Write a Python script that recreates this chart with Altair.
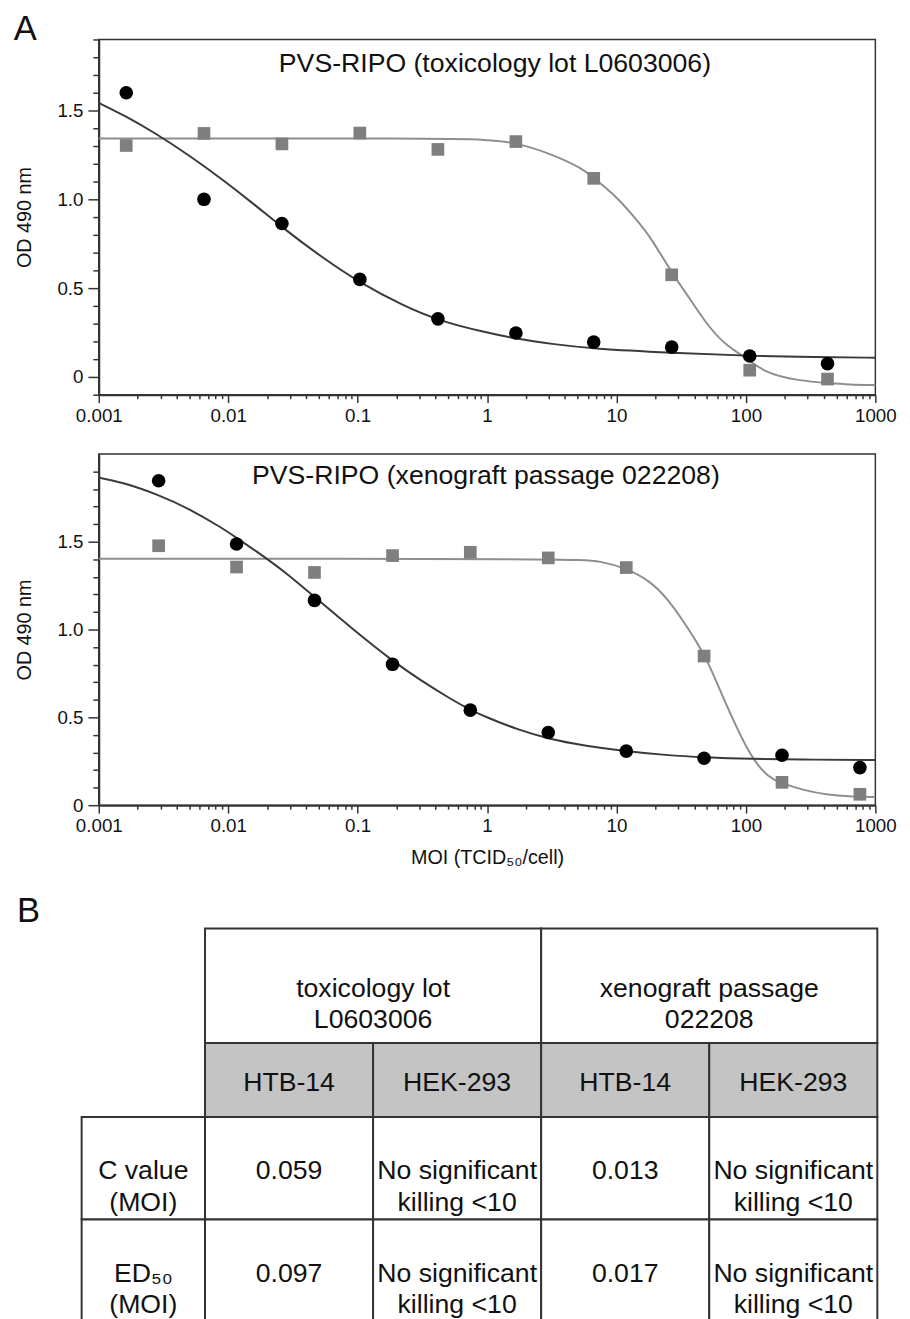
import altair as alt
import pandas as pd

FONT = "Liberation Sans"

# ---------------- data ----------------
# Panel A, top: PVS-RIPO toxicology lot L0603006
tox_moi = [0.00163, 0.0065, 0.026, 0.104, 0.417, 1.67, 6.67, 26.7, 107, 427]
tox_htb14 = [1.60, 1.00, 0.864, 0.549, 0.327, 0.247, 0.196, 0.168, 0.118, 0.075]
tox_hek293 = [1.303, 1.371, 1.312, 1.373, 1.281, 1.325, 1.118, 0.575, 0.038, -0.012]
tox_fit_htb14_moi = [0.001, 0.0016, 0.0028, 0.005, 0.0089, 0.016, 0.026, 0.052, 0.107,
                     0.224, 0.42, 0.98, 1.67, 3.1, 6.7, 27, 105, 340, 1000]
tox_fit_htb14_od = [1.543, 1.470, 1.368, 1.247, 1.115, 0.970, 0.843, 0.677, 0.524,
                    0.402, 0.317, 0.250, 0.215, 0.186, 0.158, 0.136, 0.118, 0.112, 0.108]
tox_fit_hek293_moi = [0.001, 0.42, 1.0, 1.67, 3.1, 5.6, 6.7, 10, 13.5, 18.2, 27, 37, 52,
                      74, 96, 141, 252, 455, 617, 1000]
tox_fit_hek293_od = [1.343, 1.343, 1.336, 1.32, 1.257, 1.17, 1.118, 1.016, 0.905, 0.793,
                     0.58, 0.44, 0.275, 0.164, 0.119, 0.02, -0.021, -0.036, -0.043, -0.046]
tox_title = "PVS-RIPO (toxicology lot L0603006)"

# Panel A, bottom: PVS-RIPO xenograft passage 022208
xen_moi = [0.0029, 0.0116, 0.0464, 0.186, 0.742, 2.97, 11.9, 47.5, 190, 760]
xen_htb14 = [1.847, 1.487, 1.166, 0.802, 0.541, 0.414, 0.308, 0.267, 0.284, 0.214]
xen_hek293 = [1.477, 1.356, 1.325, 1.421, 1.44, 1.408, 1.353, 0.849, 0.13, 0.062]
xen_fit_htb14_moi = [0.001, 0.00155, 0.0029, 0.005, 0.0089, 0.0112, 0.0204, 0.0288, 0.046,
                     0.093, 0.186, 0.30, 0.54, 0.73, 0.97, 1.74, 2.97, 5.6, 11.8, 24, 48,
                     105, 335, 1000]
xen_fit_htb14_od = [1.865, 1.837, 1.767, 1.688, 1.58, 1.53, 1.399, 1.315, 1.188,
                    0.998, 0.821, 0.715, 0.598, 0.546, 0.503, 0.429, 0.378, 0.339, 0.307,
                    0.285, 0.272, 0.263, 0.259, 0.257]
xen_fit_hek293_moi = [0.001, 4.8, 7.5, 11.9, 18, 24.2, 32.4, 40.7, 49, 58, 69, 83, 104,
                      132, 166, 193, 266, 450, 603, 1000]
xen_fit_hek293_od = [1.403, 1.403, 1.39, 1.349, 1.278, 1.185, 1.054, 0.942, 0.839, 0.718,
                     0.588, 0.457, 0.308, 0.196, 0.14, 0.125, 0.088, 0.056, 0.05, 0.046]
xen_title = "PVS-RIPO (xenograft passage 022208)"

# axis tick labels
x_tick_labels = ["0.001", "0.01", "0.1", "1", "10", "100", "1000"]
x_tick_values = [m * 10.0 ** e for e in range(-3, 3) for m in range(1, 10)] + [1000.0]

# Panel B table
group_labels = ["toxicology lot\nL0603006", "xenograft passage\n022208"]
cell_lines = ["HTB-14", "HEK-293", "HTB-14", "HEK-293"]
row_labels = ["C value\n(MOI)", "ED\u2085\u2080\n(MOI)"]
c_values = ["0.059", "No significant\nkilling <10", "0.013", "No significant\nkilling <10"]
ed50_values = ["0.097", "No significant\nkilling <10", "0.017", "No significant\nkilling <10"]

# ---------------- styling ----------------
BLACK_CURVE = "#3a3a3a"
GRAY_CURVE = "#8e8e8e"
SQUARE = "#7f7f7f"
FRAME = "#333333"
TEXT = "#111111"

x_major = "abs(log(datum.value)/LN10 - round(log(datum.value)/LN10)) < 1e-6"
x_label_arr = "[" + ",".join("'%s'" % s for s in x_tick_labels) + "]"
x_label_expr = "%s ? %s[round(log(datum.value)/LN10) + 3] : ''" % (x_major, x_label_arr)

y_major = "abs(datum.value*2 - round(datum.value*2)) < 1e-6"
y_label_expr = "%s ? (abs(datum.value) < 1e-6 ? '0' : format(datum.value, '.1f')) : ''" % y_major


def panel(moi, htb, hek, fhx, fhy, fkx, fky, title, title_at, y_domain, y_ticks,
          height, x_title):
    pts_htb = pd.DataFrame({"moi": moi, "od": htb})
    pts_hek = pd.DataFrame({"moi": moi, "od": hek})
    fit_htb = pd.DataFrame({"moi": fhx, "od": fhy})
    fit_hek = pd.DataFrame({"moi": fkx, "od": fky})
    ttl = pd.DataFrame({"moi": [title_at[0]], "od": [title_at[1]], "t": [title]})

    x_axis_kw = dict(
        values=x_tick_values,
        labelExpr=x_label_expr,
        tickSize={"condition": {"test": x_major, "value": 8}, "value": 4},
        labelPadding=4,
        labelFlush=False,
        labelOverlap=False,
    )
    if x_title:
        x_axis_kw["title"] = x_title
        x_axis_kw["titlePadding"] = 12
    else:
        x_axis_kw["title"] = None
    x_enc = alt.X("moi:Q",
                  scale=alt.Scale(type="log", domain=[0.001, 1000], nice=False),
                  axis=alt.Axis(**x_axis_kw))
    y_enc = alt.Y("od:Q",
                  scale=alt.Scale(domain=y_domain, nice=False, zero=False),
                  axis=alt.Axis(values=y_ticks, labelExpr=y_label_expr,
                                tickSize={"condition": {"test": y_major, "value": 11},
                                          "value": 6},
                                title="OD 490 nm", titlePadding=23, labelPadding=5,
                                labelFlush=False, labelOverlap=False))

    l_hek = alt.Chart(fit_hek).mark_line(color=GRAY_CURVE, strokeWidth=2,
                                         interpolate="basis").encode(x=x_enc, y=y_enc)
    l_htb = alt.Chart(fit_htb).mark_line(color=BLACK_CURVE, strokeWidth=2,
                                         interpolate="basis").encode(x=x_enc, y=y_enc)
    p_hek = alt.Chart(pts_hek).mark_point(shape="square", filled=True, color=SQUARE,
                                          size=165, opacity=1).encode(x=x_enc, y=y_enc)
    p_htb = alt.Chart(pts_htb).mark_circle(color="#000000", size=190,
                                           opacity=1).encode(x=x_enc, y=y_enc)
    t_mark = alt.Chart(ttl).mark_text(font=FONT, fontSize=27, color=TEXT, align="center",
                                      baseline="alphabetic").encode(x=x_enc, y=y_enc,
                                                                    text="t:N")
    return alt.layer(l_hek, l_htb, p_hek, p_htb, t_mark).properties(
        width=787,
        height=height,
        view=alt.ViewBackground(stroke=FRAME, strokeWidth=1.5),
    )


top_ticks = [round(-0.1 + 0.1 * i, 1) for i in range(21)]
bot_ticks = [round(0.1 * i, 1) for i in range(20)]

top = panel(tox_moi, tox_htb14, tox_hek293, tox_fit_htb14_moi, tox_fit_htb14_od,
            tox_fit_hek293_moi, tox_fit_hek293_od,
            tox_title, (1.15, 1.719), [-0.1, 1.9], top_ticks, 360, None)
bottom = panel(xen_moi, xen_htb14, xen_hek293, xen_fit_htb14_moi, xen_fit_htb14_od,
               xen_fit_hek293_moi, xen_fit_hek293_od,
               xen_title, (0.98, 1.827), [0.0, 2.0], bot_ticks, 356,
               "MOI (TCID\u2085\u2080/cell)")

# ---------------- table (panel B) ----------------
LABEL_W = 0.734      # width of row-label column, in data-column units
H_HEAD = 1.115       # height of group header row, in data-row units
H_SUB = 0.721        # height of cell-line header row
TOTAL_H = H_HEAD + H_SUB + 2

rows = []
for i, g in enumerate(group_labels):
    rows.append(dict(x0=2 * i, x1=2 * i + 2, y0=0, y1=H_HEAD, fill="#ffffff", text=g))
for j, c in enumerate(cell_lines):
    rows.append(dict(x0=j, x1=j + 1, y0=H_HEAD, y1=H_HEAD + H_SUB, fill="#c4c4c4", text=c))
for r, (lab, vals) in enumerate(zip(row_labels, [c_values, ed50_values])):
    y0 = H_HEAD + H_SUB + r
    rows.append(dict(x0=-LABEL_W, x1=0, y0=y0, y1=y0 + 1, fill="#ffffff", text=lab))
    for j, v in enumerate(vals):
        rows.append(dict(x0=j, x1=j + 1, y0=y0, y1=y0 + 1, fill="#ffffff", text=v))
tdf = pd.DataFrame(rows)
tdf["xc"] = (tdf["x0"] + tdf["x1"]) / 2
tdf["yc"] = (tdf["y0"] + tdf["y1"]) / 2

tx = alt.Scale(domain=[-0.632, 4], nice=False, zero=False)
ty = alt.Scale(domain=[TOTAL_H, 0], nice=False, zero=False)

cells = alt.Chart(tdf).mark_rect(stroke=FRAME, strokeWidth=2).encode(
    x=alt.X("x0:Q", scale=tx, axis=None), x2="x1:Q",
    y=alt.Y("y0:Q", scale=ty, axis=None), y2="y1:Q",
    fill=alt.Fill("fill:N", scale=None),
)
texts = alt.Chart(tdf).mark_text(font=FONT, fontSize=27, lineBreak="\n", lineHeight=32,
                                 color=TEXT, align="center", baseline="middle",
                                 dy=3).encode(
    x=alt.X("xc:Q", scale=tx, axis=None),
    y=alt.Y("yc:Q", scale=ty, axis=None),
    text="text:N",
)
table = alt.layer(cells, texts).properties(
    width=789, height=399,
    title=alt.TitleParams("B", anchor="start", frame="group", dx=-83, fontSize=35,
                          font=FONT, fontWeight="normal", color=TEXT, offset=-1),
)

chart = alt.vconcat(
    alt.vconcat(top, bottom, spacing=27),
    table,
    spacing=26,
).properties(
    title=alt.TitleParams("A", anchor="start", fontSize=35, font=FONT,
                          fontWeight="normal", color=TEXT, offset=-22, dy=-5),
    padding={"left": 5, "top": -5, "right": 5, "bottom": 0},
).configure_view(stroke=None).configure_axis(
    labelFont=FONT, titleFont=FONT, labelColor=TEXT, titleColor=TEXT,
    domainColor=FRAME, tickColor=FRAME, domainWidth=2, tickWidth=1.5,
    labelFontSize=19, titleFontSize=20, titleFontWeight="normal", grid=False,
)

chart.save("out.html", embed_options={"renderer": "svg", "actions": False})
